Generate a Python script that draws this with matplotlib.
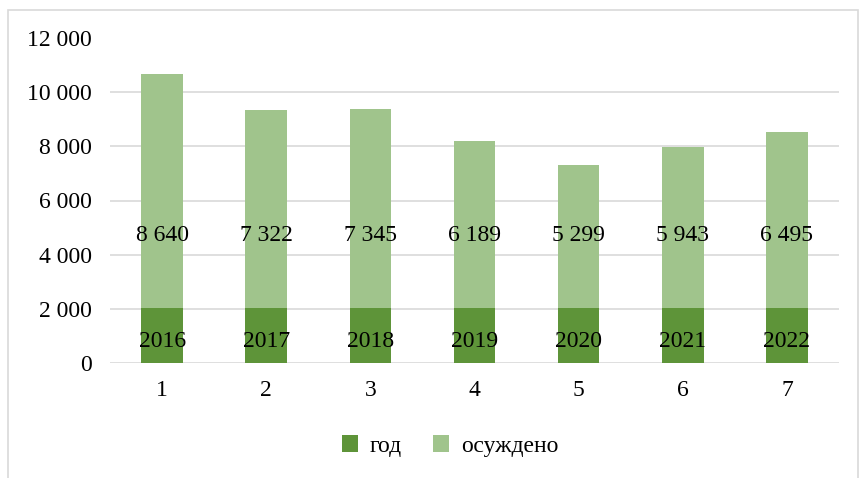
import matplotlib.pyplot as plt
from matplotlib.patches import Rectangle

plt.rcParams["font.family"] = ["Liberation Serif", "DejaVu Serif"]

positions = [1, 2, 3, 4, 5, 6, 7]
years = [2016, 2017, 2018, 2019, 2020, 2021, 2022]
convicted = [8640, 7322, 7345, 6189, 5299, 5943, 6495]
yticks = [0, 2000, 4000, 6000, 8000, 10000, 12000]

DARK = "#5e9439"
LIGHT = "#a0c48c"
FS = 17


def fmt(v):
    return f"{v:,}".replace(",", " ")


fig = plt.figure(figsize=(8.61, 4.78), dpi=100)
fig.patches.append(Rectangle((8 / 861, -0.01), 850 / 861, 1 - 10 / 478 + 0.01,
                             transform=fig.transFigure, fill=False,
                             edgecolor="#d9d9d9", linewidth=1.2))
ax = fig.add_axes([110 / 861, 1 - 363 / 478, 729 / 861, 325 / 478])

x = list(range(len(positions)))
ax.bar(x, years, width=0.4, color=DARK, label="год", zorder=2)
ax.bar(x, convicted, width=0.4, bottom=years, color=LIGHT, label="осуждено", zorder=2)

for i in x:
    ax.text(i, 780, str(years[i]), ha="center", va="center", fontsize=FS, zorder=3)
    ax.text(i, 4720, fmt(convicted[i]), ha="center", va="center", fontsize=FS, zorder=3)

ax.set_xlim(-0.5, len(x) - 0.5)
ax.set_ylim(0, 12000)
ax.set_yticks(yticks)
ax.set_yticklabels([fmt(v) for v in yticks], fontsize=FS)
ax.set_xticks(x)
ax.set_xticklabels([str(p) for p in positions], fontsize=FS)
ax.tick_params(length=0)
ax.tick_params(axis="x", pad=12)
ax.tick_params(axis="y", pad=13)
for s in ax.spines.values():
    s.set_visible(False)
for v in yticks[:-1]:
    ax.axhline(v, color="#d9d9d9", linewidth=1.2, zorder=1)

ax.legend(loc="center", bbox_to_anchor=(450 / 861, 1 - 446 / 478),
          bbox_transform=fig.transFigure, ncol=2, frameon=False, fontsize=FS,
          handlelength=0.7, handleheight=0.7, columnspacing=1.3, handletextpad=0.5)

fig.savefig("out.png", dpi=100, facecolor="white")
